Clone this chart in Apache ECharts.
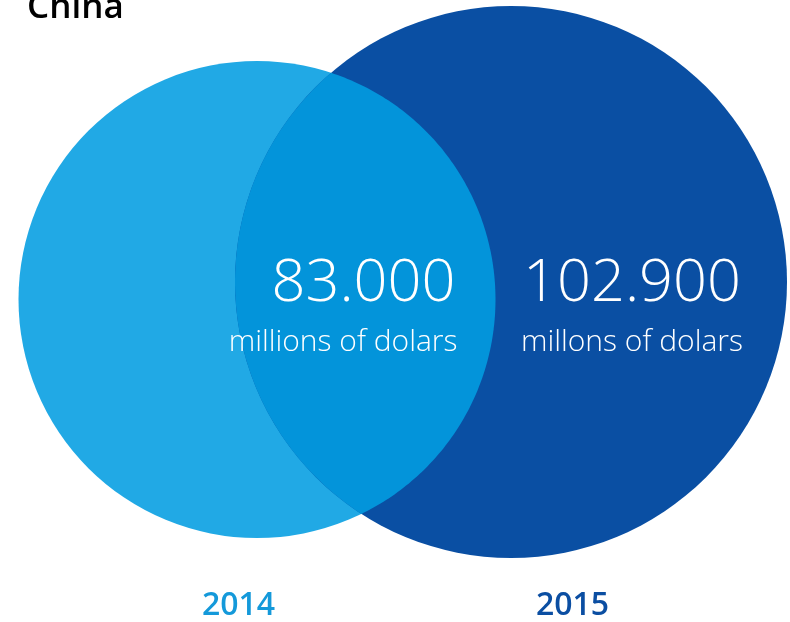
<!DOCTYPE html>
<html><head><meta charset="utf-8">
<script src="https://cdn.jsdelivr.net/npm/echarts/dist/echarts.min.js"></script>
<style>html,body{margin:0;padding:0;background:#fff}#c{width:790px;height:622px}</style>
</head><body><div id="c"></div>
<script>
const titleText = 'China';
const years = ['2014', '2015'];
const values = [83000, 102900];
const valueLabels = ['83.000', '102.900'];
const unitLabels = ['millions of dolars', 'millons of dolars'];

const circleColors = ['#21A9E5', '#0A4FA3'];
const overlapColor = '#0394DA';
const yearColors = ['#1499DA', '#0B4EA2'];
const FONT = '"Open Sans", "Noto Sans", sans-serif';

const layout = { dx: [18.5, -61.5], cy: [299.5, 282], rMin: 238.5, rMax: 276, textGap: [40, 46], numY: 284, unitY: 342 };

function radiusOf(v) {
  const lo = Math.min(...values), hi = Math.max(...values);
  return layout.rMin + (v - lo) / (hi - lo) * (layout.rMax - layout.rMin);
}
function geom(api, i) {
  const x = api.coord([i, 0])[0] + layout.dx[i];
  return { x: x, y: layout.cy[i], r: radiusOf(values[i]) };
}
function lensPoints(A, B) {
  const dx = B.x - A.x, dy = B.y - A.y;
  const d = Math.sqrt(dx * dx + dy * dy);
  const a = (d * d + A.r * A.r - B.r * B.r) / (2 * d);
  const b = d - a;
  const phi = Math.atan2(dy, dx);
  const alpha = Math.acos(a / A.r), beta = Math.acos(b / B.r);
  const pts = [];
  const N = 160;
  for (let k = 0; k <= N; k++) {
    const t = phi - alpha + 2 * alpha * k / N;
    pts.push([A.x + A.r * Math.cos(t), A.y + A.r * Math.sin(t)]);
  }
  for (let k = 0; k <= N; k++) {
    const t = phi + Math.PI - beta + 2 * beta * k / N;
    pts.push([B.x + B.r * Math.cos(t), B.y + B.r * Math.sin(t)]);
  }
  return pts;
}

function renderItem(params, api) {
  const i = params.dataIndex;
  const g = geom(api, i);
  const children = [{
    type: 'circle', z2: i,
    shape: { cx: g.x, cy: g.y, r: g.r },
    style: { fill: circleColors[i] }
  }];
  if (i === 1) {
    const A = geom(api, 0);
    children.push({
      type: 'polygon', z2: 5,
      shape: { points: lensPoints(A, g) },
      style: { fill: overlapColor }
    });
  }
  const right = g.x + g.r - layout.textGap[i];
  children.push({
    type: 'text', z2: 10,
    style: { text: valueLabels[i], x: right, y: layout.numY, align: 'right', verticalAlign: 'middle',
      fill: '#ffffff', fontSize: 59.5, fontWeight: 300, fontFamily: FONT }
  });
  children.push({
    type: 'text', z2: 10,
    style: { text: unitLabels[i], x: right + 2, y: layout.unitY, align: 'right', verticalAlign: 'middle',
      fill: '#ffffff', fontSize: 30, fontWeight: 300, fontFamily: FONT }
  });
  return { type: 'group', children: children };
}

const chart = echarts.init(document.getElementById('c'));
chart.setOption({
  animation: false,
  title: { text: titleText, left: 22, top: -14,
    textStyle: { color: '#000', fontSize: 35, fontWeight: 600, fontFamily: FONT, lineHeight: 35 } },
  grid: { left: 71.5, right: 50.5, top: 0, bottom: 40 },
  xAxis: {
    type: 'category', data: years,
    axisLine: { show: false }, axisTick: { show: false }, splitLine: { show: false },
    axisLabel: { margin: 12, fontSize: 32, fontWeight: 600, fontFamily: FONT,
      color: function (v, idx) { return yearColors[years.indexOf(v)]; } }
  },
  yAxis: { type: 'value', show: false, min: 0, max: 200000 },
  series: [{
    type: 'custom', renderItem: renderItem,
    data: values.map(function (v, i) { return [i, v]; })
  }]
});
</script></body></html>
